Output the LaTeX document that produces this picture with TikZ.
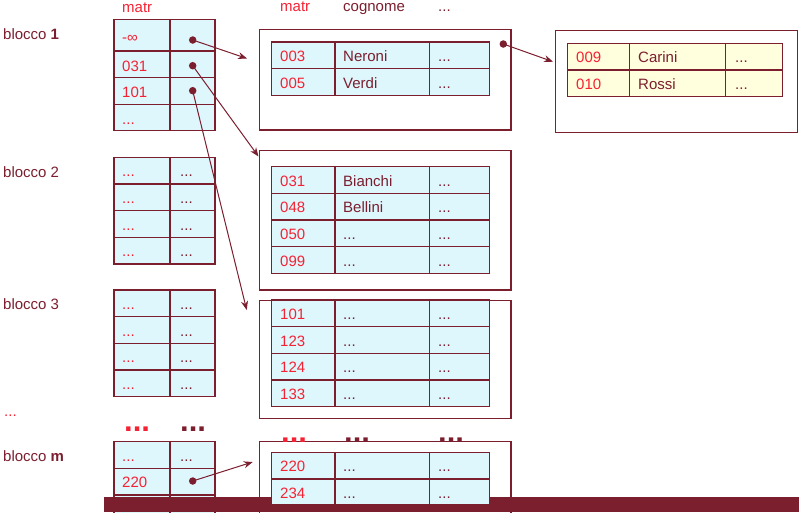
\documentclass[tikz,border=0pt]{standalone}
\usepackage{fontspec}
\setmainfont{Liberation Sans}
\usetikzlibrary{arrows.meta}
\definecolor{dred}{HTML}{7B1E2E}
\definecolor{tred}{HTML}{F52233}
\definecolor{cyanf}{HTML}{DEF7FD}
\definecolor{yelf}{HTML}{FFFEDD}
\begin{document}
\begin{tikzpicture}[x=1pt,y=-1pt,
  tb/.style={draw=dred,line width=1.4pt},
  ob/.style={draw=dred,line width=1.2pt,fill=white},
  tx/.style={anchor=base west,inner sep=0pt,font=\fontsize{15}{18}\selectfont},
  rt/.style={tx,text=tred},
  dt/.style={tx,text=dred},
  bigdots/.style={anchor=base west,inner sep=0pt,font=\fontsize{31}{33}\selectfont\bfseries},
  ptr/.style={draw=dred,line width=1pt,-{Stealth[length=9pt,width=7pt]}},
  dotn/.style={circle,fill=dred,inner sep=0pt,minimum size=7.5pt}]
\useasboundingbox (0,0) rectangle (799,512);

% ---------- labels ----------
\node[dt] (lb1) at (3,39) {blocco \textbf{1}};
\node[dt] (lb2) at (3,177) {blocco 2};
\node[dt] (lb3) at (3,309) {blocco 3};
\node[rt] (lbd) at (4,416) {...};
\node[dt] (lbm) at (3,461.5) {blocco \textbf{m}};

% headers
\node[rt] (hm1) at (122,12.5) {matr};
\node[rt] (hm2) at (280,11.5) {matr};
\node[dt] (hcg) at (343,11.5) {cognome};
\node[dt] (hdd) at (438,11.5) {...};

% ---------- data blocks (outer) ----------
\draw[ob] (259.3,29.3) rectangle (511,130);
\draw[ob] (259.3,150.7) rectangle (511,290);
\draw[ob] (259.3,300.7) rectangle (511,418.3);
\draw[ob] (259.3,441.7) rectangle (511,520);
\draw[ob] (555.7,30.7) rectangle (797.8,132.3);

% block 1 inner
\fill[cyanf] (271.7,42) rectangle (489.3,95.3);
\draw[tb] (271.7,42) rectangle (489.3,95.3);
\draw[tb] (335,42) -- (335,95.3) (429.3,42) -- (429.3,95.3) (271.7,68.7) -- (489.3,68.7);
\node[rt] (b1a) at (280,61.5) {003};
\node[dt] (b1b) at (343,61.5) {Neroni};
\node[dt] (b1c) at (438,61.5) {...};
\node[rt] (b1d) at (280,88) {005};
\node[dt] (b1e) at (343,88) {Verdi};
\node[dt] (b1f) at (438,88) {...};

% right block inner
\fill[yelf] (567.7,43.3) rectangle (782.3,96.7);
\draw[tb] (567.7,43.3) rectangle (782.3,96.7);
\draw[tb] (629.3,43.3) -- (629.3,96.7) (725.3,43.3) -- (725.3,96.7) (567.7,70) -- (782.3,70);
\node[rt] (r1a) at (576,62.7) {009};
\node[dt] (r1b) at (638,62.7) {Carini};
\node[dt] (r1c) at (735,62.7) {...};
\node[rt] (r1d) at (576,89.3) {010};
\node[dt] (r1e) at (638,89.3) {Rossi};
\node[dt] (r1f) at (735,89.3) {...};

% block 2 inner
\fill[cyanf] (271.7,166.7) rectangle (489.3,273.3);
\draw[tb] (271.7,166.7) rectangle (489.3,273.3);
\draw[tb] (335,166.7) -- (335,273.3) (429.3,166.7) -- (429.3,273.3);
\foreach \y in {193.3,220,246.7} \draw[tb] (271.7,\y) -- (489.3,\y);
\node[rt] (b2a) at (280,186) {031};
\node[dt] (b2b) at (343,186) {Bianchi};
\node[dt] (b2c) at (438,186) {...};
\node[rt] (b2d) at (280,212.7) {048};
\node[dt] (b2e) at (343,212.7) {Bellini};
\node[dt] (b2f) at (438,212.7) {...};
\node[rt] (b2g) at (280,239.3) {050};
\node[dt] (b2h) at (343,239.3) {...};
\node[dt] (b2i) at (438,239.3) {...};
\node[rt] (b2j) at (280,266) {099};
\node[dt] (b2k) at (343,266) {...};
\node[dt] (b2l) at (438,266) {...};

% block 3 inner
\fill[cyanf] (271.7,300) rectangle (489.3,406.7);
\draw[tb] (271.7,300) rectangle (489.3,406.7);
\draw[tb] (335,300) -- (335,406.7) (429.3,300) -- (429.3,406.7);
\foreach \y in {326.7,353.3,380} \draw[tb] (271.7,\y) -- (489.3,\y);
\node[rt] (b3a) at (280,319.3) {101};
\node[dt] (b3b) at (343,319.3) {...};
\node[dt] (b3c) at (438,319.3) {...};
\node[rt] (b3d) at (280,346) {123};
\node[dt] (b3e) at (343,346) {...};
\node[dt] (b3f) at (438,346) {...};
\node[rt] (b3g) at (280,372.7) {124};
\node[dt] (b3h) at (343,372.7) {...};
\node[dt] (b3i) at (438,372.7) {...};
\node[rt] (b3j) at (280,399.3) {133};
\node[dt] (b3k) at (343,399.3) {...};
\node[dt] (b3l) at (438,399.3) {...};

% block m header dots
\node[bigdots,text=tred] (bmh1) at (281,442) {...};
\node[bigdots,text=dred] (bmh2) at (344,442) {...};
\node[bigdots,text=dred] (bmh3) at (438,442) {...};

% ---------- left index tables ----------
% blocco 1
\fill[cyanf] (114,19.3) rectangle (215,130.7);
\draw[tb] (114,19.3) rectangle (215,130.7);
\draw[tb] (170,19.3) -- (170,130.7);
\foreach \y in {51,77.7,104.3} \draw[tb] (114,\y) -- (215,\y);
\node[rt] (i1a) at (122,42) {-∞};
\node[rt] (i1b) at (122,71.5) {031};
\node[rt] (i1c) at (122,97.5) {101};
\node[rt] (i1d) at (122,124) {...};

% blocco 2
\fill[cyanf] (114,157.3) rectangle (215,264);
\draw[tb] (114,157.3) rectangle (215,264);
\draw[tb] (170,157.3) -- (170,264);
\foreach \y in {184,210.7,237.3} \draw[tb] (114,\y) -- (215,\y);
\foreach \y [count=\i] in {176.7,203.3,230,256.7} {
  \node[rt] (i2a\i) at (122,\y) {...};
  \node[dt] (i2b\i) at (180,\y) {...};
}

% blocco 3
\fill[cyanf] (114,290) rectangle (215,396.7);
\draw[tb] (114,290) rectangle (215,396.7);
\draw[tb] (170,290) -- (170,396.7);
\foreach \y in {316.7,343.3,370} \draw[tb] (114,\y) -- (215,\y);
\foreach \y [count=\i] in {309.3,336,362.7,389.3} {
  \node[rt] (i3a\i) at (122,\y) {...};
  \node[dt] (i3b\i) at (180,\y) {...};
}

% blocco m
\node[bigdots,text=tred] (imh1) at (124,431.5) {...};
\node[bigdots,text=dred] (imh2) at (180,431.5) {...};
\fill[cyanf] (114,441.7) rectangle (215,521.7);
\draw[tb] (114,441.7) rectangle (215,521.7);
\draw[tb] (170,441.7) -- (170,521.7);
\foreach \y in {468.3,495} \draw[tb] (114,\y) -- (215,\y);
\node[rt] (ima) at (122,461) {...};
\node[dt] (imb) at (180,461) {...};
\node[rt] (imc) at (122,487.5) {220};

% ---------- pointers ----------
\node[dotn] (d1) at (192.7,40) {};
\node[dotn] (d2) at (192.7,65.7) {};
\node[dotn] (d3) at (192.7,90.7) {};
\node[dotn] (dm) at (192.7,481) {};
\node[dotn] (dr) at (503.3,44) {};
\coordinate (t1) at (247,58.5);
\coordinate (t2) at (258.5,156.5);
\coordinate (t3) at (246.7,310);
\coordinate (tm) at (252.7,462);
\coordinate (tr) at (553,61.7);
\draw[ptr] (d1.center) -- (t1);
\draw[ptr] (d2.center) -- (t2);
\draw[ptr] (d3.center) -- (t3);
\draw[ptr] (dm.center) -- (tm);
\draw[ptr] (dr.center) -- (tr);

% ---------- bottom bar ----------
\fill[dred] (104.3,496.7) rectangle (799,512);

% block m inner (drawn over the bar)
\fill[cyanf] (271.7,452.3) rectangle (489.3,505);
\draw[tb] (271.7,452.3) rectangle (489.3,505);
\draw[tb] (335,452.3) -- (335,505) (429.3,452.3) -- (429.3,505) (271.7,479) -- (489.3,479);
\node[rt] (bma) at (280,471.7) {220};
\node[dt] (bmb) at (343,471.7) {...};
\node[dt] (bmc) at (438,471.7) {...};
\node[rt] (bmd) at (280,498) {234};
\node[dt] (bme) at (343,498) {...};
\node[dt] (bmf) at (438,498) {...};
\end{tikzpicture}
\end{document}
